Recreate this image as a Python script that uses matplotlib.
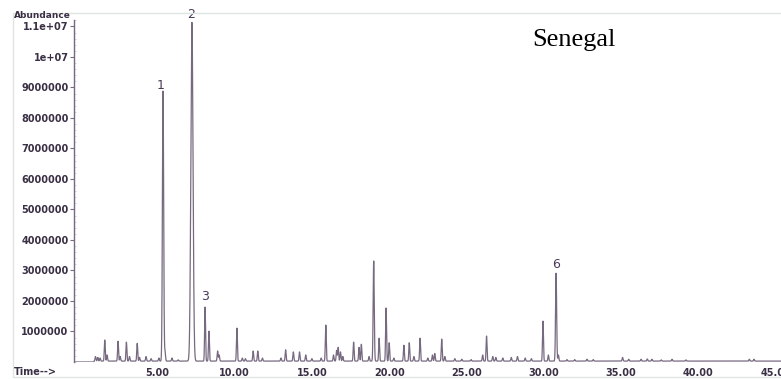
#!/usr/bin/env python3

import matplotlib.pyplot as plt
import numpy as np
from matplotlib.patches import Rectangle
from matplotlib.ticker import MultipleLocator

# peak list: retention time (min), abundance, width (min)
peak_times = [1.0, 1.15, 1.3, 1.6, 1.75, 2.46, 2.6, 3.0, 3.2, 3.7, 3.85, 4.27, 4.6,
              5.1, 5.37, 5.5, 5.95, 6.35, 7.24, 8.09, 8.34, 8.9, 9.0, 10.15, 10.5,
              10.7, 11.2, 11.5, 11.8, 13.0, 13.3, 13.8, 14.2, 14.6, 15.0, 15.6,
              15.9, 16.4, 16.6, 16.7, 16.85, 17.0, 17.7, 18.05, 18.2, 18.7, 19.0,
              19.35, 19.8, 20.0, 20.3, 20.95, 21.3, 21.6, 22.0, 22.5, 22.8, 22.95,
              23.4, 23.6, 24.25, 24.7, 25.3, 26.05, 26.3, 26.7, 26.9, 27.35, 27.9,
              28.3, 28.8, 29.2, 29.95, 30.3, 30.8, 30.95, 31.5, 32.0, 32.8, 33.2,
              35.1, 35.5, 36.3, 36.7, 37.0, 37.6, 38.3, 39.2, 43.3, 43.6]
peak_heights = [0.15e6, 0.12e6, 0.1e6, 0.69e6, 0.2e6, 0.65e6, 0.15e6, 0.62e6, 0.15e6,
                0.58e6, 0.12e6, 0.15e6, 0.08e6, 0.1e6, 8.85e6, 0.3e6, 0.1e6, 0.04e6,
                11.1e6, 1.77e6, 0.98e6, 0.33e6, 0.2e6, 1.08e6, 0.1e6, 0.08e6, 0.33e6,
                0.33e6, 0.1e6, 0.1e6, 0.37e6, 0.3e6, 0.3e6, 0.2e6, 0.08e6, 0.1e6,
                1.18e6, 0.2e6, 0.35e6, 0.45e6, 0.3e6, 0.15e6, 0.62e6, 0.45e6, 0.55e6,
                0.15e6, 3.28e6, 0.75e6, 1.74e6, 0.6e6, 0.1e6, 0.52e6, 0.6e6, 0.15e6,
                0.75e6, 0.1e6, 0.2e6, 0.25e6, 0.72e6, 0.15e6, 0.08e6, 0.06e6, 0.05e6,
                0.2e6, 0.82e6, 0.15e6, 0.12e6, 0.1e6, 0.12e6, 0.15e6, 0.1e6, 0.08e6,
                1.31e6, 0.2e6, 2.88e6, 0.2e6, 0.05e6, 0.05e6, 0.06e6, 0.05e6, 0.12e6,
                0.06e6, 0.06e6, 0.07e6, 0.06e6, 0.04e6, 0.06e6, 0.04e6, 0.06e6, 0.06e6]
big_widths = {5.37: 0.04, 7.24: 0.07, 19.0: 0.035, 30.8: 0.035}

# annotated peaks: label, time, abundance of label
labels = ["1", "2", "3", "6"]
label_times = [5.2, 7.2, 8.1, 30.8]
label_values = [9.05e6, 11.4e6, 2.15e6, 3.2e6]

yticks = [1e6, 2e6, 3e6, 4e6, 5e6, 6e6, 7e6, 8e6, 9e6, 1e7, 1.1e7]
ytick_labels = ["1000000", "2000000", "3000000", "4000000", "5000000", "6000000",
                "7000000", "8000000", "9000000", "1e+07", "1.1e+07"]
xticks = [5, 10, 15, 20, 25, 30, 35, 40, 45]

t = np.arange(-0.4, 45.4, 0.005)
signal = np.where(t > 0.9, 0.03e6, 0.0)
for pt, ph in zip(peak_times, peak_heights):
    w = big_widths.get(pt, 0.03)
    signal = signal + ph * np.exp(-0.5 * ((t - pt) / w) ** 2)

fig = plt.figure(figsize=(7.81, 3.79), dpi=100)
ax = fig.add_axes([74 / 781, 1 - 362 / 379, 1 - 74 / 781, 342 / 379])

trace = "#776a80"
ink = "#3a2f44"
ax.plot(t, signal, color=trace, linewidth=0.9)
ax.set_xlim(-0.39, 45.35)
ax.set_ylim(0, 1.121e7)

for s in ["top", "right", "bottom"]:
    ax.spines[s].set_visible(False)
ax.spines["left"].set_color(trace)
ax.spines["left"].set_linewidth(1.0)

ax.set_yticks(yticks)
ax.set_yticklabels(ytick_labels, fontweight="bold")
ax.yaxis.set_minor_locator(MultipleLocator(2e5))
ax.tick_params(axis="y", which="major", length=3, color=trace, labelsize=7,
               labelcolor=ink, pad=1)
ax.tick_params(axis="y", which="minor", length=1.5, direction="in", color="#d0cad6")
ax.set_xticks(xticks)
ax.set_xticklabels([f"{x:.2f}" for x in xticks], fontweight="bold")
ax.tick_params(axis="x", length=0, labelsize=7, labelcolor=ink, pad=4)

for lab, lt, lv in zip(labels, label_times, label_values):
    ax.text(lt, lv, lab, ha="center", va="center", fontsize=9, color="#4a3a5a",
            clip_on=False)

fig.text(14 / 781, 1 - 16 / 379, "Abundance", fontsize=6.5, fontweight="bold",
         color=ink, va="center")
fig.text(14 / 781, 1 - 372 / 379, "Time-->", fontsize=7, fontweight="bold",
         color=ink, va="center")
fig.text(532 / 781, 1 - 46 / 379, "Senegal", fontsize=19, family="Liberation Serif",
         color="black", va="baseline")

fig.patches.append(Rectangle((13 / 781, 1 - 377 / 379), 1, 364 / 379,
                             transform=fig.transFigure, fill=False,
                             edgecolor="#dfe6e2", linewidth=1))

fig.savefig("out.png", dpi=100)
